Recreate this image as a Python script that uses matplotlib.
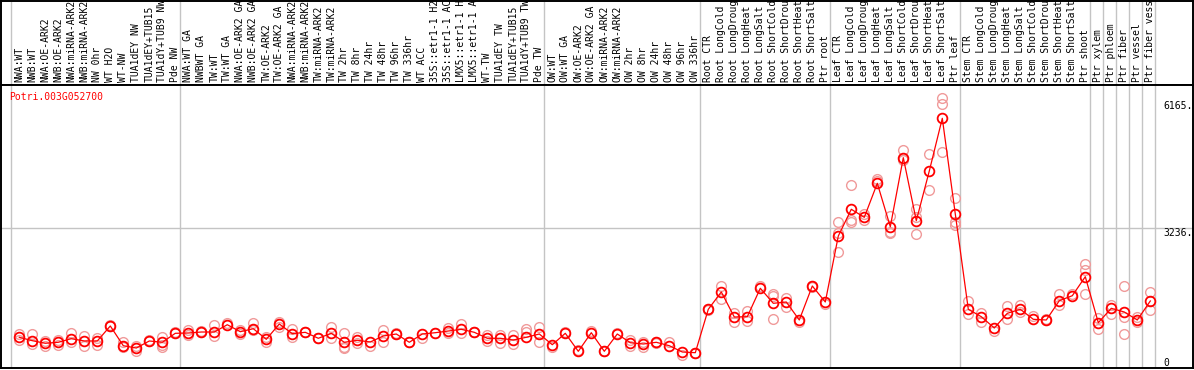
import matplotlib.pyplot as plt

gene = 'Potri.003G052700'

samples = [
    'NWA:WT', 'NWB:WT', 'NWA:OE-ARK2', 'NWB:OE-ARK2', 'NWA:miRNA-ARK2', 'NWB:miRNA-ARK2',
    'NW 0hr', 'WT H2O', 'WT-NW', 'TUA1dEY NW', 'TUA1dEY+TUB15', 'TUA1dY+TUB9 NW', 'Pde NW',
    'NWA:WT GA', 'NWBWT GA', 'TW:WT', 'TW:WT GA', 'NWA:OE-ARK2 GA', 'NWB:OE-ARK2 GA',
    'TW:OE-ARK2', 'TW:OE-ARK2 GA', 'NWA:miRNA-ARK2', 'NWB:miRNA-ARK2', 'TW:miRNA-ARK2',
    'TW:miRNA-ARK2', 'TW 2hr', 'TW 8hr', 'TW 24hr', 'TW 48hr', 'TW 96hr', 'TW 336hr',
    'WT ACC', '35S::etr1-1 H2O', '35S::etr1-1 ACC', 'LMX5::etr1-1 H2O', 'LMX5::etr1-1 ACC',
    'WT-TW', 'TUA1dEY TW', 'TUA1dEY+TUB15', 'TUA1dY+TUB9 TW', 'Pde TW',
    'OW:WT', 'OW:WT GA', 'OW:OE-ARK2', 'OW:OE-ARK2 GA', 'OW:miRNA-ARK2', 'OW:miRNA-ARK2',
    'OW 2hr', 'OW 8hr', 'OW 24hr', 'OW 48hr', 'OW 96hr', 'OW 336hr',
    'Root CTR', 'Root LongCold', 'Root LongDrought', 'Root LongHeat', 'Root LongSalt',
    'Root ShortCold', 'Root ShortDrought', 'Root ShortHeat', 'Root ShortSalt', 'Ptr root',
    'Leaf CTR', 'Leaf LongCold', 'Leaf LongDrought', 'Leaf LongHeat', 'Leaf LongSalt',
    'Leaf ShortCold', 'Leaf ShortDrought', 'Leaf ShortHeat', 'Leaf ShortSalt', 'Ptr leaf',
    'Stem CTR', 'Stem LongCold', 'Stem LongDrought', 'Stem LongHeat', 'Stem LongSalt',
    'Stem ShortCold', 'Stem ShortDrought', 'Stem ShortHeat', 'Stem ShortSalt', 'Ptr shoot',
    'Ptr xylem', 'Ptr phloem', 'Ptr fiber', 'Ptr vessel', 'Ptr fiber vessel',
]

means = [
    708, 630, 570, 593, 676, 623, 623, 969, 514, 461, 623, 593, 800,
    807, 830, 830, 998, 837, 906, 662, 1015, 791, 823, 685, 800, 593, 639, 600, 738,
    784, 593, 784, 814, 853, 892, 823, 685, 685, 646, 708, 784,
    537, 800, 385, 814, 385, 784, 583, 553, 593, 514, 369, 353,
    1354, 1753, 1176, 1183, 1838, 1492, 1522, 1107, 1891, 1522,
    3044, 3660, 3475, 4259, 3258, 4850, 3397, 4543, 5758, 3551,
    1354, 1183, 922, 1261, 1354, 1123, 1107, 1552, 1667, 2105,
    1045, 1377, 1291, 1107, 1545,
]

reps = [
    [784, 646], [777, 547], [507, 630], [530, 650], [814, 606], [738, 507], [530, 700],
    [969, 990], [606, 477], [399, 514], [623, 640], [722, 530, 477], [800, 820],
    [876, 761], [830, 850], [992, 738], [1031], [876, 777], [1031, 876], [722, 606],
    [1068, 952], [892, 722], [823, 840], [685, 700], [939, 699], [800, 491, 454],
    [722, 583], [507], [876, 606], [784, 800], [593, 610], [685], [814], [915, 800],
    [1008, 814], [823, 840], [761, 630], [761, 570], [761, 553], [892, 837], [952, 606],
    [491], [837], [415], [860], [385, 400], [800], [646, 507], [606, 491], [593, 580],
    [606], [300], [353, 340],
    [1354, 1340], [1891, 1598], [1275, 1068], [1321, 1084], [1891], [1706, 1660, 1123],
    [1607, 1400], [1054], [1891, 1870], [1469],
    [3360, 2668, 3106], [4213, 3413, 3374], [3551, 3413], [4351, 4312], [3505, 3143, 3106],
    [5027, 4796], [3660, 3083, 3489], [4928, 4105], [6219, 6081, 4974], [3913, 3374, 3298],
    [1552, 1245], [1275, 1068], [860], [1430, 1137], [1453, 1298], [1199], [1107, 1120],
    [1706, 1453], [1706], [2391, 2260, 1706],
    [1146, 892], [1453, 1238], [1891, 1183, 777], [1183, 1054], [1753, 1337],
]

# first sample of each block (last entry = end)
group_starts = [0, 13, 41, 53, 63, 73, 83, 84, 85, 86, 87, 88]

y_ticks = [6165, 3236, 0]
y_tick_labels = ['6165.', '3236.', '0']

W, H = 1194, 370
mono = 'DejaVu Sans Mono'
red = '#ff0000'
pink = '#f09a9a'
grid = '#c4c4c4'

fig = plt.figure(figsize=(W / 100, H / 100), dpi=100)

xlim = ((1 - 19.3) / 13, (1193 - 19.3) / 13)

# header with sample names
ax_h = fig.add_axes([1 / W, (H - 85) / H, 1192 / W, 84.5 / H])
ax_h.set_xlim(*xlim)
ax_h.set_ylim(0, 84.5)
ax_h.set_xticks([])
ax_h.set_yticks([])
for s in ax_h.spines.values():
    s.set_linewidth(1.4)
for g in group_starts:
    ax_h.axvline(g - 0.615, color=grid, lw=1.0)
for i, name in enumerate(samples):
    ax_h.text(i, 3, name, rotation=90, ha='center', va='bottom',
              family=mono, fontsize=7, clip_on=False)

# expression plot
ax = fig.add_axes([1 / W, 2 / H, 1192 / W, 283 / H])
ax.set_xlim(*xlim)
ax.set_ylim(0, 6526)
ax.set_xticks([])
ax.set_yticks([])
for s in ax.spines.values():
    s.set_linewidth(1.4)
for g in group_starts:
    ax.axvline(g - 0.615, color=grid, lw=1.0, zorder=1)
ax.axhline(3236, color=grid, lw=1.0, zorder=1)

for i, r in enumerate(reps):
    ax.plot([i] * len(r), r, 'o', ms=7, mfc='none', mec=pink, mew=1.0, zorder=2)
x = list(range(len(means)))
ax.plot(x, means, '-', color=red, lw=0.9, zorder=3)
ax.plot(x, means, 'o', ms=7, mfc='none', mec=red, mew=1.3, zorder=4)

for v, t in zip(y_ticks, y_tick_labels):
    ax.text(88.0, v, t, ha='left', va='bottom' if v == 0 else 'top',
            family=mono, fontsize=7)

fig.text(9 / W, 1 - 92.5 / H, gene, color=red, family=mono, fontsize=7,
         ha='left', va='top')

fig.savefig('out.png', dpi=100)
